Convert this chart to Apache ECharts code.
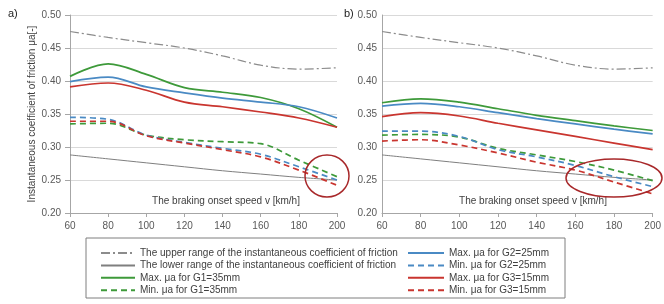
<!DOCTYPE html>
<html>
<head>
<meta charset="utf-8">
<script src="https://cdn.jsdelivr.net/npm/echarts@6/dist/echarts.min.js"></script>
<style>
  html, body { margin: 0; padding: 0; background: #fff; }
  #chart { width: 664px; height: 304px; }
</style>
</head>
<body>
<div id="chart"></div>
<script>
var speeds = ['60', '80', '100', '120', '140', '160', '180', '200'];
var yTicks = [0.20, 0.50, 0.05];

// shared boundary curves
var upperRange = [0.475, 0.466, 0.458, 0.450, 0.438, 0.424, 0.418, 0.420];
var lowerRange = [0.288, 0.282, 0.276, 0.270, 0.264, 0.259, 0.254, 0.250];

// chart a)
var aMaxG1 = [0.407, 0.426, 0.410, 0.390, 0.383, 0.375, 0.358, 0.330];
var aMinG1 = [0.335, 0.336, 0.318, 0.311, 0.308, 0.305, 0.280, 0.255];
var aMaxG2 = [0.399, 0.406, 0.391, 0.382, 0.374, 0.368, 0.361, 0.344];
var aMinG2 = [0.345, 0.342, 0.318, 0.307, 0.298, 0.289, 0.270, 0.250];
var aMaxG3 = [0.391, 0.397, 0.386, 0.368, 0.361, 0.353, 0.344, 0.330];
var aMinG3 = [0.339, 0.339, 0.317, 0.306, 0.296, 0.285, 0.265, 0.242];

// chart b)
var bMaxG1 = [0.367, 0.373, 0.368, 0.358, 0.348, 0.340, 0.332, 0.325];
var bMinG1 = [0.318, 0.319, 0.315, 0.298, 0.288, 0.278, 0.265, 0.249];
var bMaxG2 = [0.362, 0.366, 0.361, 0.352, 0.343, 0.335, 0.327, 0.320];
var bMinG2 = [0.324, 0.324, 0.316, 0.296, 0.285, 0.272, 0.255, 0.240];
var bMaxG3 = [0.346, 0.352, 0.347, 0.336, 0.326, 0.316, 0.306, 0.296];
var bMinG3 = [0.309, 0.311, 0.303, 0.291, 0.277, 0.265, 0.247, 0.229];

var names = [
    'The upper range of the instantaneous coefficient of friction',
    'The lower range of the instantaneous coefficient of friction',
    'Max. μa for G1=35mm',
    'Min. μa for G1=35mm',
    'Max. μa for G2=25mm',
    'Min. μa for G2=25mm',
    'Max. μa for G3=15mm',
    'Min. μa for G3=15mm'
];
var xTitle = 'The braking onset speed v [km/h]';
var green = '#3e9a3a', blue = '#4a8ac4', red = '#c9352f', grey = '#8c8c8c';

function line(name, data, idx, color, type, width) {
    return {
        name: name, type: 'line', data: data,
        xAxisIndex: idx, yAxisIndex: idx,
        smooth: 0.35, symbol: 'none',
        lineStyle: { color: color, width: width || 1.7, type: type || 'solid' },
        itemStyle: { color: color }
    };
}

function bothCharts(i, a, b, color, type, width) {
    return [line(names[i], a, 0, color, type, width), line(names[i], b, 1, color, type, width)];
}

var labelStyle = { color: '#595959', fontSize: 10, fontFamily: 'Liberation Sans' };

function xAxis(idx) {
    return {
        type: 'category', gridIndex: idx, data: speeds, boundaryGap: false,
        axisLine: { lineStyle: { color: '#a6a6a6' } },
        axisTick: { show: true, length: 4, lineStyle: { color: '#a6a6a6' } },
        axisLabel: Object.assign({ margin: 8 }, labelStyle),
        splitLine: { show: false }
    };
}

function yAxis(idx) {
    var ax = {
        type: 'value', gridIndex: idx,
        min: yTicks[0], max: yTicks[1], interval: yTicks[2],
        axisLine: { show: true, lineStyle: { color: '#a6a6a6' } },
        axisTick: { show: idx === 0, length: 5, lineStyle: { color: '#a6a6a6' } },
        axisLabel: Object.assign({ margin: idx === 0 ? 9 : 5, formatter: function (v) { return v.toFixed(2); } }, labelStyle),
        splitLine: { lineStyle: { color: '#d9d9d9' } }
    };
    if (idx === 0) {
        ax.name = 'Instantaneous coefficient of friction μa[-]';
        ax.nameLocation = 'middle';
        ax.nameGap = 31;
        ax.nameTextStyle = { color: '#404040', fontSize: 10, fontFamily: 'Liberation Sans' };
    }
    return ax;
}

var series = [].concat(
    bothCharts(0, upperRange, upperRange, grey, [9, 3, 2, 3], 1.2),
    bothCharts(1, lowerRange, lowerRange, '#7f7f7f', 'solid', 1),
    bothCharts(2, aMaxG1, bMaxG1, green),
    bothCharts(3, aMinG1, bMinG1, green, [6, 4]),
    bothCharts(4, aMaxG2, bMaxG2, blue),
    bothCharts(5, aMinG2, bMinG2, blue, [6, 4]),
    bothCharts(6, aMaxG3, bMaxG3, red),
    bothCharts(7, aMinG3, bMinG3, red, [6, 4])
);

var legendText = { color: '#404040', fontSize: 10, fontFamily: 'Liberation Sans' };

var myChart = echarts.init(document.getElementById('chart'));
option = {
    animation: false,
    backgroundColor: '#fff',
    grid: [
        { left: 70, top: 15, width: 267, height: 198 },
        { left: 382, top: 15, width: 271, height: 198 }
    ],
    xAxis: [xAxis(0), xAxis(1)],
    yAxis: [yAxis(0), yAxis(1)],
    legend: [
        {
            data: names.slice(0, 4), orient: 'vertical', left: 100, top: 248, padding: 0,
            itemWidth: 34, itemHeight: 10, itemGap: 2.4, textStyle: legendText,
            itemStyle: { opacity: 0 }
        },
        {
            data: names.slice(4), orient: 'vertical', left: 407, top: 248, padding: 0,
            itemWidth: 36, itemHeight: 10, itemGap: 2.4, textStyle: legendText,
            itemStyle: { opacity: 0 }
        }
    ],
    graphic: [
        { type: 'rect', shape: { x: 86, y: 238, width: 479, height: 60 },
          style: { fill: 'none', stroke: '#7f7f7f', lineWidth: 1 }, z: -1 },
        { type: 'text', left: 8, top: 8, style: { text: 'a)', fill: '#222', font: '11px Liberation Sans' } },
        { type: 'text', left: 344, top: 8, style: { text: 'b)', fill: '#222', font: '11px Liberation Sans' } },
        { type: 'text', x: 226, y: 201, style: { text: xTitle, fill: '#404040', font: '10px Liberation Sans', align: 'center', verticalAlign: 'middle' } },
        { type: 'text', x: 533, y: 201, style: { text: xTitle, fill: '#404040', font: '10px Liberation Sans', align: 'center', verticalAlign: 'middle' } },
        { type: 'ellipse', shape: { cx: 327, cy: 176, rx: 22, ry: 21 },
          style: { fill: 'none', stroke: '#a8282a', lineWidth: 1.5 }, z: 100 },
        { type: 'ellipse', shape: { cx: 614, cy: 178, rx: 48, ry: 19 },
          style: { fill: 'none', stroke: '#a8282a', lineWidth: 1.5 }, z: 100 }
    ],
    series: series
};
myChart.setOption(option);
</script>
</body>
</html>
